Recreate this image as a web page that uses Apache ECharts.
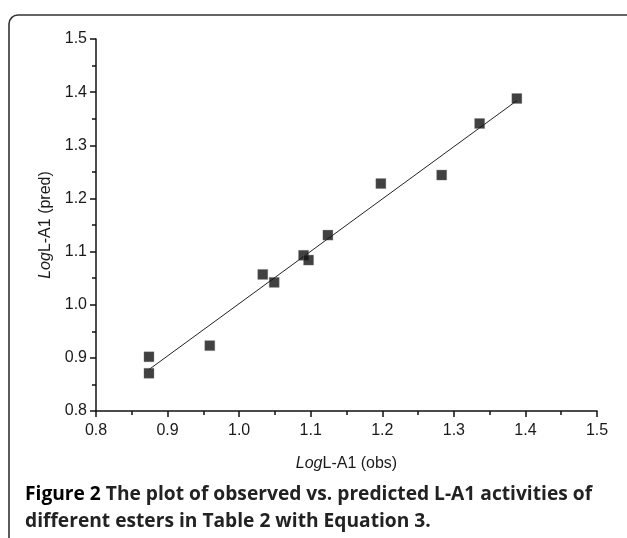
<!DOCTYPE html>
<html>
<head>
<meta charset="utf-8">
<script src="https://cdn.jsdelivr.net/npm/echarts@6/dist/echarts.min.js"></script>
<style>
  html, body { margin: 0; padding: 0; background: #fff; }
  #chart { width: 627px; height: 538px; }
</style>
</head>
<body>
<div id="chart"></div>
<script>
// observed vs predicted LogL-A1
const obs = [0.874, 0.874, 0.959, 1.033, 1.049, 1.090, 1.097, 1.124, 1.198, 1.283, 1.336, 1.388];
const pred = [0.902, 0.871, 0.923, 1.057, 1.042, 1.093, 1.084, 1.131, 1.228, 1.244, 1.341, 1.388];
// ends of the fitted line
const fitX = [0.874, 1.388];
const fitY = [0.878, 1.384];
const xTicks = ['0.8', '0.9', '1.0', '1.1', '1.2', '1.3', '1.4', '1.5'];
const yTicks = ['0.8', '0.9', '1.0', '1.1', '1.2', '1.3', '1.4', '1.5'];

const captionPlain1 = 'Figure 2 The plot of observed vs. predicted L-A1 activities of';
const captionLine1 = '{b|Figure 2} The plot of observed vs. predicted L-A1 activities of';
const captionLine2 = 'different esters in Table 2 with Equation 3.';

// fit caption font size to the width it takes in the figure
const ctx = document.createElement('canvas').getContext('2d');
ctx.font = 'bold 16px "Open Sans"';
const w1 = ctx.measureText(captionPlain1).width;
const capSize = Math.round(16 * 566 / w1 * 10) / 10;

const chart = echarts.init(document.getElementById('chart'));

const labelFont = { fontFamily: 'Liberation Sans', fontSize: 16, color: '#1a1a1a' };
const nameFont = {
  fontFamily: 'Liberation Sans', fontSize: 16, color: '#1a1a1a',
  rich: { i: { fontFamily: 'Liberation Sans', fontSize: 16, fontStyle: 'italic', color: '#1a1a1a' } }
};
const axisLine = { show: true, lineStyle: { color: '#111', width: 1.5 } };
const majorTick = { show: true, length: 6, lineStyle: { color: '#111', width: 1.5 } };
const minorTick = { show: true, splitNumber: 2, length: 4, lineStyle: { color: '#111', width: 1.5 } };

chart.setOption({
  animation: false,
  grid: { left: 96, top: 39, right: 30, bottom: 127 },
  xAxis: {
    type: 'value',
    min: 0.8, max: 1.5, interval: 0.1,
    name: '{i|Log}L-A1 (obs)',
    nameLocation: 'middle',
    nameGap: 45,
    nameTextStyle: nameFont,
    axisLine: axisLine,
    axisTick: majorTick,
    minorTick: minorTick,
    splitLine: { show: false },
    axisLabel: Object.assign({ margin: 12, formatter: (v) => xTicks[Math.round((v - 0.8) * 10)] }, labelFont)
  },
  yAxis: {
    type: 'value',
    min: 0.8, max: 1.5, interval: 0.1,
    name: '{i|Log}L-A1 (pred)',
    nameLocation: 'middle',
    nameGap: 41,
    nameRotate: 90,
    nameTextStyle: nameFont,
    axisLine: axisLine,
    axisTick: majorTick,
    minorTick: minorTick,
    splitLine: { show: false },
    axisLabel: Object.assign({ margin: 9, formatter: (v) => yTicks[Math.round((v - 0.8) * 10)] }, labelFont)
  },
  graphic: [
    {
      type: 'rect',
      shape: { x: 9, y: 15, width: 680, height: 600, r: 9 },
      style: { fill: 'none', stroke: '#333', lineWidth: 1.6 },
      silent: true
    },
    {
      type: 'text',
      left: 25, top: 481,
      style: {
        text: captionLine1 + '\n' + captionLine2,
        font: 'bold ' + capSize + 'px "Open Sans"',
        fill: '#222',
        lineHeight: 27,
        rich: {
          b: { fontFamily: 'Open Sans', fontWeight: 'bold', fontSize: capSize, fill: '#000' }
        }
      }
    }
  ],
  series: [
    {
      type: 'line',
      data: fitX.map((x, i) => [x, fitY[i]]),
      symbol: 'none',
      lineStyle: { color: '#222', width: 1 },
      z: 1
    },
    {
      type: 'scatter',
      data: obs.map((x, i) => [x, pred[i]]),
      symbol: 'rect',
      symbolSize: 10,
      itemStyle: { color: '#111', borderColor: '#777', borderWidth: 0.4 },
      z: 2
    }
  ]
});
</script>
</body>
</html>
